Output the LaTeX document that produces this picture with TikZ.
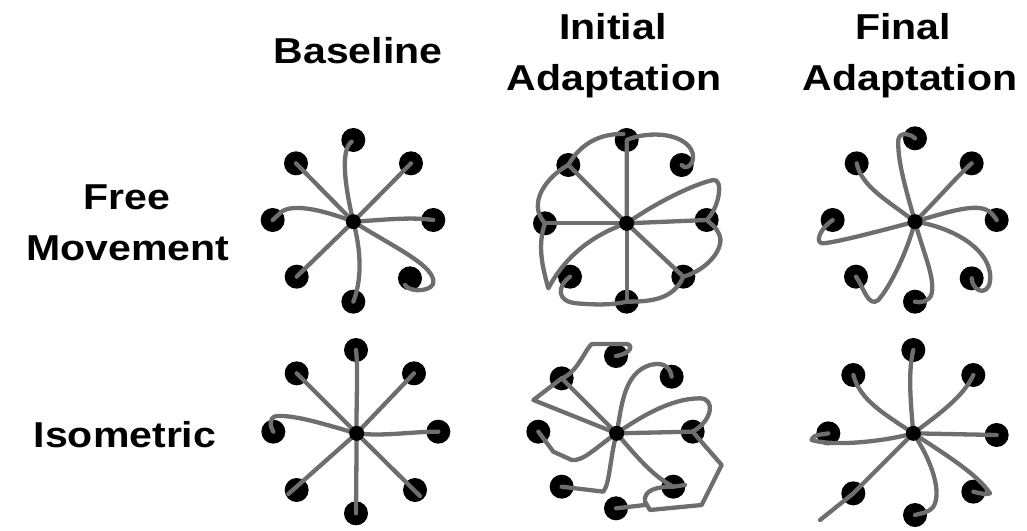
\documentclass[tikz,border=0pt]{standalone}
\usepackage{fontspec}
\newfontfamily\labfont{Liberation Sans}[FakeStretch=1.14]
\definecolor{trail}{RGB}{110,110,110}
\tikzset{
  trace/.style={draw=trail, line width=4.3pt, line cap=round, line join=round},
  tgt/.style={circle, fill=black, minimum size=24pt, inner sep=0pt},
  hub/.style={circle, fill=black, minimum size=15pt, inner sep=0pt},
  lab/.style={font=\labfont\bfseries\fontsize{36}{44}\selectfont, anchor=base, inner sep=0pt},
}
\begin{document}
\begin{tikzpicture}[x=1pt, y=-1pt]
\useasboundingbox (0,0) rectangle (1027,530);

% headings
\node[lab] (hBase) at (358,63) {Baseline};
\node[lab] (hIni1) at (613,39) {Initial};
\node[lab] (hIni2) at (614,90) {Adaptation};
\node[lab] (hFin1) at (903,39) {Final};
\node[lab] (hFin2) at (910,90) {Adaptation};
\node[lab] (hFree) at (127,209) {Free};
\node[lab] (hMove) at (128,260) {Movement};
\node[lab] (hIso)  at (125,447) {Isometric};

% ---------- free movement, baseline ----------
\begin{scope}[shift={(250,120)}, scale=1/3]
\coordinate (A0) at (310,305);
\node[tgt] (A1) at (310,60) {};  \node[tgt] (A2) at (483,130) {};
\node[tgt] (A3) at (550,300) {}; \node[tgt] (A4) at (480,475) {};
\node[tgt] (A5) at (310,545) {}; \node[tgt] (A6) at (140,470) {};
\node[tgt] (A7) at (68,300) {};  \node[tgt] (A8) at (138,130) {};
\draw[trace] (A0) .. controls (285,200) and (270,90) .. (305,65);
\draw[trace] (A0) -- (A2.center);
\draw[trace] (A0) .. controls (400,300) and (480,290) .. (A3.center);
\draw[trace] (A0) .. controls (430,380) and (540,430) .. (550,480) .. controls (558,515) and (480,520) .. (465,495);
\draw[trace] (A0) .. controls (335,400) and (335,480) .. (A5.center);
\draw[trace] (A0) -- (A6.center);
\draw[trace] (A0) .. controls (220,270) and (130,250) .. (95,275) -- (A7.center);
\draw[trace] (A0) -- (A8.center);
\node[hub] (Ah) at (A0) {};
\end{scope}

% ---------- free movement, initial adaptation ----------
\begin{scope}[shift={(510,120)}, scale=1/3]
\coordinate (B0) at (350,310);
\node[tgt] (B1) at (350,60) {};  \node[tgt] (B2) at (515,135) {};
\node[tgt] (B3) at (590,300) {}; \node[tgt] (B4) at (520,470) {};
\node[tgt] (B5) at (350,545) {}; \node[tgt] (B6) at (180,470) {};
\node[tgt] (B7) at (105,310) {}; \node[tgt] (B8) at (175,135) {};
\draw[trace] (B0) -- (B1.center) .. controls (420,30) and (530,40) .. (548,100) .. controls (556,140) and (520,150) .. (B2.center);
\draw[trace] (B0) .. controls (290,250) and (220,180) .. (B8.center) .. controls (200,90) and (250,40) .. (340,42);
\draw[trace] (B8.center) .. controls (110,170) and (50,250) .. (B7.center);
\draw[trace] (B0) -- (B7.center);
\draw[trace] (B7.center) .. controls (80,380) and (100,450) .. (115,505) .. controls (170,400) and (260,340) .. (B0);
\draw[trace] (B6.center) .. controls (140,500) and (140,545) .. (200,550) .. controls (260,555) and (310,555) .. (B5.center);
\draw[trace] (B0) -- (B5.center);
\draw[trace] (B5.center) .. controls (420,545) and (490,540) .. (B4.center);
\draw[trace] (B0) -- (B4.center);
\draw[trace] (B4.center) .. controls (590,450) and (640,390) .. (630,350) .. controls (620,320) and (600,310) .. (B3.center);
\draw[trace] (B0) -- (B3.center);
\draw[trace] (B0) .. controls (450,240) and (560,190) .. (610,180) .. controls (640,175) and (630,260) .. (B3.center);
\node[hub] (Bh) at (B0) {};
\end{scope}

% ---------- free movement, final adaptation ----------
\begin{scope}[shift={(800,120)}, scale=1/3]
\coordinate (C0) at (345,305);
\node[tgt] (C1) at (345,55) {};  \node[tgt] (C2) at (515,130) {};
\node[tgt] (C3) at (590,300) {}; \node[tgt] (C4) at (515,475) {};
\node[tgt] (C5) at (345,545) {}; \node[tgt] (C6) at (168,470) {};
\node[tgt] (C7) at (98,300) {};  \node[tgt] (C8) at (170,130) {};
\draw[trace] (C0) .. controls (315,200) and (292,120) .. (295,60) .. controls (297,35) and (330,40) .. (C1.center);
\draw[trace] (C0) .. controls (420,230) and (470,170) .. (C2.center);
\draw[trace] (C0) .. controls (430,280) and (520,250) .. (560,270) .. controls (580,280) and (585,295) .. (C3.center);
\draw[trace] (C0) .. controls (450,320) and (560,380) .. (570,460) .. controls (578,530) and (520,525) .. (C4.center);
\draw[trace] (C0) .. controls (370,400) and (405,470) .. (395,520) .. controls (390,545) and (360,550) .. (C5.center);
\draw[trace] (C0) .. controls (320,400) and (270,500) .. (235,540) .. controls (205,565) and (190,500) .. (C6.center);
\draw[trace] (C0) .. controls (250,330) and (120,365) .. (70,370) .. controls (45,372) and (55,330) .. (C7.center);
\draw[trace] (C0) .. controls (260,240) and (185,200) .. (C8.center);
\node[hub] (Ch) at (C0) {};
\end{scope}

% ---------- isometric, baseline ----------
\begin{scope}[shift={(250,330)}, scale=1/3]
\coordinate (D0) at (320,310);
\node[tgt] (D1) at (318,60) {};  \node[tgt] (D2) at (492,130) {};
\node[tgt] (D3) at (565,305) {}; \node[tgt] (D4) at (495,480) {};
\node[tgt] (D5) at (318,550) {}; \node[tgt] (D6) at (140,480) {};
\node[tgt] (D7) at (70,305) {};  \node[tgt] (D8) at (140,130) {};
\draw[trace] (D0) .. controls (318,220) and (325,120) .. (D1.center);
\draw[trace] (D0) -- (D2.center);
\draw[trace] (D0) .. controls (400,320) and (480,305) .. (D3.center);
\draw[trace] (D0) -- (510,498);
\draw[trace] (D0) -- (D5.center);
\draw[trace] (D0) -- (115,492);
\draw[trace] (D0) .. controls (230,285) and (140,255) .. (80,258) .. controls (55,262) and (60,290) .. (D7.center);
\draw[trace] (D0) -- (D8.center);
\node[hub] (Dh) at (D0) {};
\end{scope}

% ---------- isometric, initial adaptation ----------
\begin{scope}[shift={(510,330)}, scale=1/3]
\coordinate (E0) at (320,310);
\node[tgt] (E1) at (318,78) {};  \node[tgt] (E2) at (485,140) {};
\node[tgt] (E3) at (548,305) {}; \node[tgt] (E4) at (490,470) {};
\node[tgt] (E5) at (318,535) {}; \node[tgt] (E6) at (155,470) {};
\node[tgt] (E7) at (85,305) {};  \node[tgt] (E8) at (155,145) {};
\draw[trace] (E0) -- (E8.center) .. controls (200,130) and (225,60) .. (245,42) -- (350,42) .. controls (370,45) and (365,70) .. (E1.center);
\draw[trace] (E0) -- (70,210) -- (E8.center);
\draw[trace] (E0) .. controls (335,230) and (340,130) .. (420,105) .. controls (460,95) and (480,110) .. (E2.center);
\draw[trace] (E0) .. controls (420,240) and (500,205) .. (570,205) .. controls (615,205) and (610,270) .. (E3.center);
\draw[trace] (E0) -- (E3.center);
\draw[trace] (E3.center) -- (635,405) -- (575,525) -- (420,540) -- (405,515) .. controls (400,480) and (440,470) .. (E4.center);
\draw[trace] (E0) .. controls (380,380) and (430,440) .. (E4.center) -- (525,465);
\draw[trace] (E5.center) -- (405,525);
\draw[trace] (E0) .. controls (260,350) and (220,395) .. (185,390) -- (130,365) -- (E7.center);
\draw[trace] (E0) .. controls (300,380) and (300,460) .. (280,485) -- (E6.center);
\node[hub] (Eh) at (E0) {};
\end{scope}

% ---------- isometric, final adaptation ----------
\begin{scope}[shift={(800,330)}, scale=1/3]
\coordinate (F0) at (340,310);
\node[tgt] (F1) at (340,60) {};  \node[tgt] (F2) at (520,135) {};
\node[tgt] (F3) at (590,315) {}; \node[tgt] (F4) at (520,485) {};
\node[tgt] (F5) at (345,555) {}; \node[tgt] (F6) at (160,490) {};
\node[tgt] (F7) at (85,310) {};  \node[tgt] (F8) at (160,135) {};
\draw[trace] (F0) .. controls (330,200) and (325,120) .. (F1.center);
\draw[trace] (F0) .. controls (420,250) and (490,200) .. (F2.center);
\draw[trace] (F0) -- (F3.center);
\draw[trace] (F0) .. controls (430,370) and (530,430) .. (570,490) .. controls (560,495) and (540,490) .. (F4.center);
\draw[trace] (F0) .. controls (400,400) and (425,490) .. (400,530) .. controls (385,550) and (360,550) .. (F5.center);
\draw[trace] (F0) -- (F6.center) -- (60,570);
\draw[trace] (F0) .. controls (250,335) and (100,350) .. (35,330) .. controls (40,310) and (70,315) .. (F7.center);
\draw[trace] (F0) .. controls (250,250) and (180,210) .. (F8.center);
\node[hub] (Fh) at (F0) {};
\end{scope}
\end{tikzpicture}
\end{document}
